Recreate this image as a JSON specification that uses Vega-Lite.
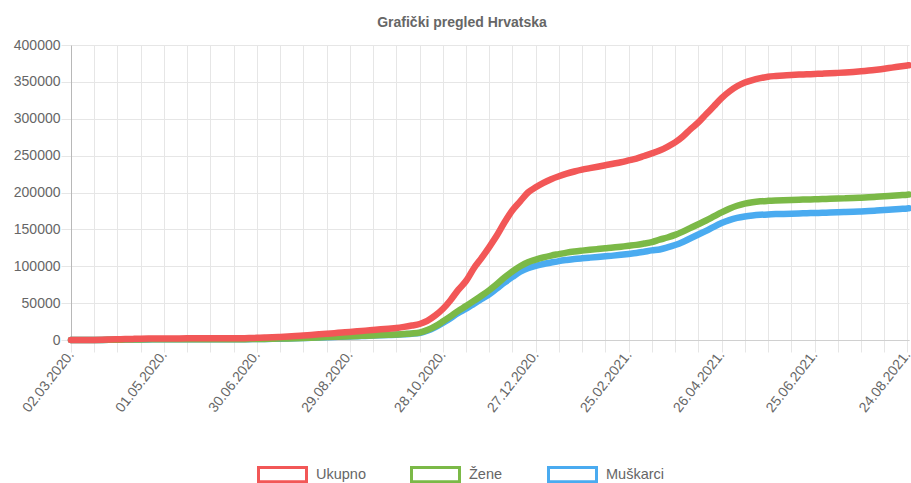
{
  "$schema": "https://vega.github.io/schema/vega-lite/v6.json",
  "width": 838,
  "height": 295,
  "autosize": {"type": "none"},
  "padding": {"left": 71, "top": 45, "right": 2, "bottom": 143},
  "background": "white",
  "title": {"text": "Grafički pregled Hrvatska", "fontSize": 14, "fontWeight": "bold", "color": "#666666", "font": "Liberation Sans", "anchor": "middle", "dx": -28, "offset": 8},
  "config": {
    "view": {"stroke": null},
    "font": "Liberation Sans",
    "axis": {"labelFont": "Liberation Sans", "labelFontSize": 14, "labelColor": "#666666", "gridColor": "#e6e6e6", "tickColor": "#e6e6e6", "domainColor": "#c4c4c4", "title": null},
    "legend": {"labelFont": "Liberation Sans", "labelFontSize": 14.5, "labelColor": "#666666"}
  },
  "data": {"values": [
    {"d":"2020-03-02","u":0,"z":0,"m":0},
    {"d":"2020-03-07","u":10,"z":5,"m":4},
    {"d":"2020-03-12","u":30,"z":14,"m":13},
    {"d":"2020-03-17","u":70,"z":32,"m":31},
    {"d":"2020-03-22","u":250,"z":115,"m":110},
    {"d":"2020-03-27","u":600,"z":276,"m":264},
    {"d":"2020-04-01","u":950,"z":437,"m":418},
    {"d":"2020-04-06","u":1250,"z":575,"m":550},
    {"d":"2020-04-11","u":1500,"z":690,"m":660},
    {"d":"2020-04-16","u":1750,"z":805,"m":770},
    {"d":"2020-04-21","u":1900,"z":874,"m":836},
    {"d":"2020-04-26","u":2000,"z":920,"m":880},
    {"d":"2020-05-01","u":2080,"z":957,"m":915},
    {"d":"2020-05-06","u":2140,"z":984,"m":942},
    {"d":"2020-05-11","u":2190,"z":1007,"m":964},
    {"d":"2020-05-16","u":2220,"z":1021,"m":977},
    {"d":"2020-05-21","u":2240,"z":1030,"m":986},
    {"d":"2020-05-26","u":2245,"z":1033,"m":988},
    {"d":"2020-05-31","u":2250,"z":1035,"m":990},
    {"d":"2020-06-05","u":2260,"z":1040,"m":994},
    {"d":"2020-06-10","u":2280,"z":1049,"m":1003},
    {"d":"2020-06-15","u":2320,"z":1067,"m":1021},
    {"d":"2020-06-20","u":2420,"z":1113,"m":1065},
    {"d":"2020-06-25","u":2600,"z":1196,"m":1144},
    {"d":"2020-06-30","u":2900,"z":1334,"m":1276},
    {"d":"2020-07-05","u":3250,"z":1495,"m":1430},
    {"d":"2020-07-10","u":3700,"z":1702,"m":1628},
    {"d":"2020-07-15","u":4200,"z":1932,"m":1848},
    {"d":"2020-07-20","u":4700,"z":2162,"m":2068},
    {"d":"2020-07-25","u":5300,"z":2438,"m":2332},
    {"d":"2020-07-30","u":6000,"z":2760,"m":2640},
    {"d":"2020-08-04","u":6900,"z":3174,"m":3036},
    {"d":"2020-08-09","u":7700,"z":3542,"m":3388},
    {"d":"2020-08-14","u":8500,"z":3910,"m":3740},
    {"d":"2020-08-19","u":9300,"z":4278,"m":4092},
    {"d":"2020-08-24","u":10100,"z":4646,"m":4444},
    {"d":"2020-08-29","u":10900,"z":5014,"m":4796},
    {"d":"2020-09-03","u":11800,"z":5428,"m":5192},
    {"d":"2020-09-08","u":12700,"z":5842,"m":5588},
    {"d":"2020-09-13","u":13600,"z":6256,"m":5984},
    {"d":"2020-09-18","u":14500,"z":6670,"m":6380},
    {"d":"2020-09-23","u":15400,"z":7084,"m":6776},
    {"d":"2020-09-28","u":16300,"z":7498,"m":7172},
    {"d":"2020-10-03","u":17800,"z":8200,"m":7800},
    {"d":"2020-10-08","u":19600,"z":8900,"m":8500},
    {"d":"2020-10-13","u":21700,"z":10000,"m":9500},
    {"d":"2020-10-18","u":26000,"z":13500,"m":12500},
    {"d":"2020-10-23","u":33000,"z":18500,"m":17000},
    {"d":"2020-10-28","u":42000,"z":25000,"m":23000},
    {"d":"2020-11-02","u":54000,"z":32000,"m":29500},
    {"d":"2020-11-07","u":68000,"z":39500,"m":36500},
    {"d":"2020-11-12","u":80000,"z":46000,"m":42500},
    {"d":"2020-11-17","u":97000,"z":53000,"m":49000},
    {"d":"2020-11-22","u":111000,"z":60000,"m":55500},
    {"d":"2020-11-27","u":126000,"z":67500,"m":62000},
    {"d":"2020-12-02","u":142000,"z":76000,"m":70000},
    {"d":"2020-12-07","u":160000,"z":85000,"m":78000},
    {"d":"2020-12-12","u":176000,"z":93000,"m":85500},
    {"d":"2020-12-17","u":188000,"z":100000,"m":92500},
    {"d":"2020-12-22","u":200000,"z":105500,"m":97500},
    {"d":"2020-12-27","u":207000,"z":109000,"m":100500},
    {"d":"2021-01-01","u":213000,"z":112000,"m":103000},
    {"d":"2021-01-06","u":218000,"z":114500,"m":105000},
    {"d":"2021-01-11","u":222000,"z":116500,"m":107000},
    {"d":"2021-01-16","u":225500,"z":118500,"m":108500},
    {"d":"2021-01-21","u":228500,"z":120000,"m":109800},
    {"d":"2021-01-26","u":231000,"z":121200,"m":110800},
    {"d":"2021-01-31","u":233000,"z":122300,"m":111700},
    {"d":"2021-02-05","u":235000,"z":123300,"m":112600},
    {"d":"2021-02-10","u":237000,"z":124300,"m":113500},
    {"d":"2021-02-15","u":239000,"z":125300,"m":114400},
    {"d":"2021-02-20","u":241000,"z":126500,"m":115500},
    {"d":"2021-02-25","u":243500,"z":127700,"m":116700},
    {"d":"2021-03-02","u":246000,"z":129000,"m":118000},
    {"d":"2021-03-07","u":249500,"z":130800,"m":119700},
    {"d":"2021-03-12","u":253000,"z":132800,"m":121500},
    {"d":"2021-03-17","u":257000,"z":136000,"m":122800},
    {"d":"2021-03-22","u":262000,"z":139000,"m":125500},
    {"d":"2021-03-27","u":268000,"z":142500,"m":128800},
    {"d":"2021-04-01","u":276000,"z":147000,"m":133000},
    {"d":"2021-04-06","u":286000,"z":152000,"m":138000},
    {"d":"2021-04-11","u":295000,"z":157000,"m":143000},
    {"d":"2021-04-16","u":306000,"z":162000,"m":148000},
    {"d":"2021-04-21","u":317000,"z":167500,"m":153500},
    {"d":"2021-04-26","u":328000,"z":173000,"m":158500},
    {"d":"2021-05-01","u":337000,"z":178000,"m":162500},
    {"d":"2021-05-06","u":344000,"z":182000,"m":165500},
    {"d":"2021-05-11","u":349000,"z":185000,"m":167500},
    {"d":"2021-05-16","u":352500,"z":186800,"m":168800},
    {"d":"2021-05-21","u":355000,"z":188000,"m":169700},
    {"d":"2021-05-26","u":357000,"z":188700,"m":170300},
    {"d":"2021-05-31","u":358000,"z":189200,"m":170700},
    {"d":"2021-06-05","u":358800,"z":189600,"m":171000},
    {"d":"2021-06-10","u":359400,"z":189900,"m":171300},
    {"d":"2021-06-15","u":359900,"z":190200,"m":171600},
    {"d":"2021-06-20","u":360300,"z":190500,"m":171900},
    {"d":"2021-06-25","u":360700,"z":190800,"m":172200},
    {"d":"2021-06-30","u":361100,"z":191100,"m":172500},
    {"d":"2021-07-05","u":361600,"z":191400,"m":172800},
    {"d":"2021-07-10","u":362200,"z":191700,"m":173100},
    {"d":"2021-07-15","u":362800,"z":192100,"m":173500},
    {"d":"2021-07-20","u":363500,"z":192500,"m":173900},
    {"d":"2021-07-25","u":364300,"z":193000,"m":174400},
    {"d":"2021-07-30","u":365300,"z":193500,"m":174900},
    {"d":"2021-08-04","u":366500,"z":194100,"m":175500},
    {"d":"2021-08-09","u":367800,"z":194800,"m":176200},
    {"d":"2021-08-14","u":369300,"z":195500,"m":176900},
    {"d":"2021-08-19","u":370800,"z":196300,"m":177700},
    {"d":"2021-08-24","u":372300,"z":197100,"m":178400},
    {"d":"2021-08-25","u":372600,"z":197300,"m":178600}
  ]},
  "encoding": {
    "x": {
      "field": "d", "type": "temporal",
      "scale": {"type": "utc", "domain": [1583107200000, 1629849600000], "nice": false},
      "axis": {
        "values": [1583107200000,1584403200000,1585699200000,1586995200000,1588291200000,1589587200000,1590883200000,1592179200000,1593475200000,1594771200000,1596067200000,1597363200000,1598659200000,1599955200000,1601251200000,1602547200000,1603843200000,1605139200000,1606435200000,1607731200000,1609027200000,1610323200000,1611619200000,1612915200000,1614211200000,1615507200000,1616803200000,1618099200000,1619395200000,1620691200000,1621987200000,1623283200000,1624579200000,1625875200000,1627171200000,1628467200000,1629763200000],
        "labelExpr": "(round((datum.value - 1583107200000) / 86400000) % 60 == 0) ? utcFormat(datum.value, '%d.%m.%Y.') : ''",
        "labelAngle": -52, "labelAlign": "right", "labelBaseline": "middle",
        "tickSize": 12, "labelPadding": 0, "labelOverlap": false, "labelFlush": false, "labelBound": false, "domainColor": "#d0d0d0"
      }
    },
    "y": {
      "type": "quantitative",
      "scale": {"domain": [0, 400000], "nice": false},
      "axis": {"values": [0,50000,100000,150000,200000,250000,300000,350000,400000], "format": "d", "tickSize": 10, "labelPadding": 1, "domainColor": "#b8b8b8"}
    }
  },
  "layer": [
    {
      "mark": {"type": "line", "strokeWidth": 6.5, "interpolate": "monotone", "strokeCap": "round"},
      "encoding": {
        "y": {"field": "m", "type": "quantitative"},
        "color": {"datum": "Muškarci", "type": "nominal"}
      }
    },
    {
      "mark": {"type": "line", "strokeWidth": 6.5, "interpolate": "monotone", "strokeCap": "round"},
      "encoding": {
        "y": {"field": "z", "type": "quantitative"},
        "color": {"datum": "Žene", "type": "nominal"}
      }
    },
    {
      "mark": {"type": "line", "strokeWidth": 6.5, "interpolate": "monotone", "strokeCap": "round"},
      "encoding": {
        "y": {"field": "u", "type": "quantitative"},
        "color": {
          "datum": "Ukupno", "type": "nominal",
          "scale": {"domain": ["Ukupno", "Žene", "Muškarci"], "range": ["#f25757", "#7bb947", "#4aabf0"]},
          "legend": {"orient": "none", "legendX": 186, "legendY": 404, "direction": "horizontal", "title": null, "symbolType": "M-1,-0.3H1V0.3H-1Z", "symbolSize": 2304, "symbolStrokeWidth": 3, "symbolFillColor": "white", "symbolOpacity": 1, "labelOffset": 8, "columnPadding": 39}
        }
      }
    }
  ]
}
